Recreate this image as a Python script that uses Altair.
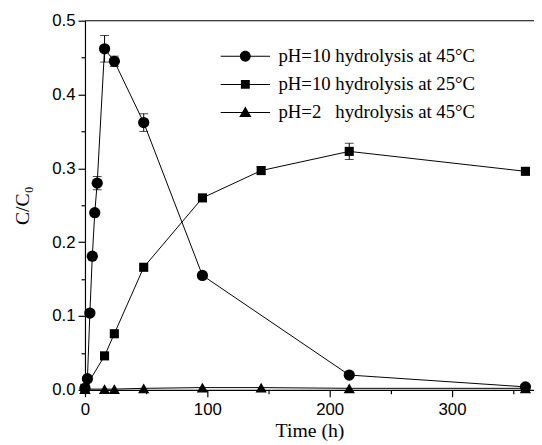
import altair as alt
import pandas as pd

# ---- data ----
series_labels = [
    "pH=10 hydrolysis at 45°C",
    "pH=10 hydrolysis at 25°C",
    "pH=2\u00a0\u00a0\u00a0hydrolysis at 45°C",
]

t_a = [0, 2, 4, 6, 8, 10, 16, 24, 48, 96, 216, 360]
c_a = [0.002, 0.015, 0.104, 0.181, 0.240, 0.280, 0.462, 0.445, 0.362, 0.155, 0.020, 0.004]
e_a = [0, 0, 0, 0, 0.002, 0.009, 0.018, 0.007, 0.012, 0, 0, 0]

t_b = [0, 16, 24, 48, 96, 144, 216, 360]
c_b = [0.002, 0.046, 0.076, 0.166, 0.260, 0.297, 0.323, 0.296]
e_b = [0, 0, 0, 0, 0.002, 0.005, 0.011, 0.004]

t_c = [0, 16, 24, 48, 96, 144, 216, 360]
c_c = [0.001, 0.001, 0.001, 0.002, 0.003, 0.003, 0.002, 0.002]
e_c = [0, 0, 0, 0, 0, 0, 0, 0]

x_ticks = [0, 50, 100, 150, 200, 250, 300, 350]
y_ticks = [0, 0.05, 0.1, 0.15, 0.2, 0.25, 0.3, 0.35, 0.4, 0.45, 0.5]

rows = []
for lab, ts, cs, es in zip(series_labels, [t_a, t_b, t_c], [c_a, c_b, c_c], [e_a, e_b, e_c]):
    for t, c, e in zip(ts, cs, es):
        rows.append({"series": lab, "t": t, "c": c, "err": e, "lo": c - e, "hi": c + e})
df = pd.DataFrame(rows)
err_df = df[df["err"] > 0]

SERIF = "Liberation Serif"
SANS = "Liberation Sans"

x_axis = alt.Axis(
    values=x_ticks,
    labelExpr="datum.value % 100 === 0 ? datum.label : ''",
    tickSize={"condition": {"test": "datum.value % 100 === 0", "value": 7}, "value": 4},
    labelFont=SANS, labelFontSize=17, labelPadding=5, labelFlush=False, labelOverlap=False,
    labelColor="black", tickColor="black", domainColor="black",
    title="Time (h)", titleFont=SERIF, titleFontSize=20, titleFontWeight="normal",
    titlePadding=3, titleColor="black",
)
y_axis = alt.Axis(
    values=y_ticks, format=".1f",
    labelExpr="round(datum.value * 100) % 10 === 0 ? datum.label : ''",
    tickSize={"condition": {"test": "round(datum.value * 100) % 10 === 0", "value": 7}, "value": 4},
    labelFont=SANS, labelFontSize=17, labelPadding=3, labelFlush=False, labelOverlap=False,
    labelColor="black", tickColor="black", domainColor="black",
    title="C/C\u2080", titleFont=SERIF, titleFontSize=20, titleFontWeight="normal",
    titlePadding=20, titleColor="black",
)
x_scale = alt.Scale(domain=[0, 367], nice=False, zero=False)
y_scale = alt.Scale(domain=[0, 0.5], nice=False)


def X(field):
    return alt.X(f"{field}:Q", scale=x_scale, axis=x_axis)


def Y(field):
    return alt.Y(f"{field}:Q", scale=y_scale, axis=y_axis)


base = alt.Chart(df)

lines = base.mark_line(color="black", strokeWidth=1).encode(
    x=X("t"), y=Y("c"), detail="series:N", order="t:Q"
)

err_rule = alt.Chart(err_df).mark_rule(color="black", strokeWidth=1).encode(
    x=X("t"), y=Y("lo"), y2="hi:Q"
)
cap_hi = alt.Chart(err_df).mark_tick(orient="horizontal", size=9, thickness=1, color="black").encode(
    x=X("t"), y=Y("hi")
)
cap_lo = alt.Chart(err_df).mark_tick(orient="horizontal", size=9, thickness=1, color="black").encode(
    x=X("t"), y=Y("lo")
)

shapes = ["circle", "square", "triangle-up"]
sizes = [130, 85, 130]
point_layers = []
for lab, shp, sz in zip(series_labels, shapes, sizes):
    point_layers.append(
        base.transform_filter(alt.datum.series == lab)
        .mark_point(filled=True, color="black", opacity=1, shape=shp, size=sz)
        .encode(x=X("t"), y=Y("c"))
    )

# legend glyphs: a thin filled bar (the line) plus the marker
legend_paths = [
    "M-2.5,-0.05H2.5V0.05H-2.5ZM-0.55,0A0.55,0.55,0,1,1,0.55,0A0.55,0.55,0,1,1,-0.55,0Z",
    "M-2.5,-0.05H2.5V0.05H-2.5ZM-0.45,-0.45H0.45V0.45H-0.45Z",
    "M-2.5,-0.05H2.5V0.05H-2.5ZM0,-0.62L0.62,0.45L-0.62,0.45Z",
]
legend_layer = base.transform_filter("false").mark_point(
    filled=True, color="black", opacity=1
).encode(
    x=X("t"), y=Y("c"),
    shape=alt.Shape(
        "series:N",
        scale=alt.Scale(domain=series_labels, range=legend_paths),
        legend=alt.Legend(
            title=None, orient="none", legendX=151.5, legendY=25, padding=0,
            symbolSize=400, symbolFillColor="black", symbolOpacity=1,
            labelFont=SERIF, labelFontSize=19, labelColor="black",
            labelOffset=22.5, rowPadding=7.5, labelLimit=400,
        ),
    ),
)

top_line = alt.Chart(pd.DataFrame({"k": [0]})).mark_rule(color="black", strokeWidth=1.2).encode(
    y=alt.YDatum(0.5, scale=y_scale, axis=y_axis)
)

chart = alt.layer(
    lines, err_rule, cap_hi, cap_lo, *point_layers, legend_layer, top_line
).properties(
    width=455, height=374,
    autosize=alt.AutoSizeParams(type="none"),
    padding={"left": 78, "top": 10, "right": 0, "bottom": 52},
).configure_view(stroke=None).configure_axis(
    domainColor="black", tickColor="black", labelColor="black", titleColor="black",
    grid=False, domainWidth=1.2, tickWidth=1.2,
)

chart.save("out.html", embed_options={"renderer": "svg", "actions": False})
